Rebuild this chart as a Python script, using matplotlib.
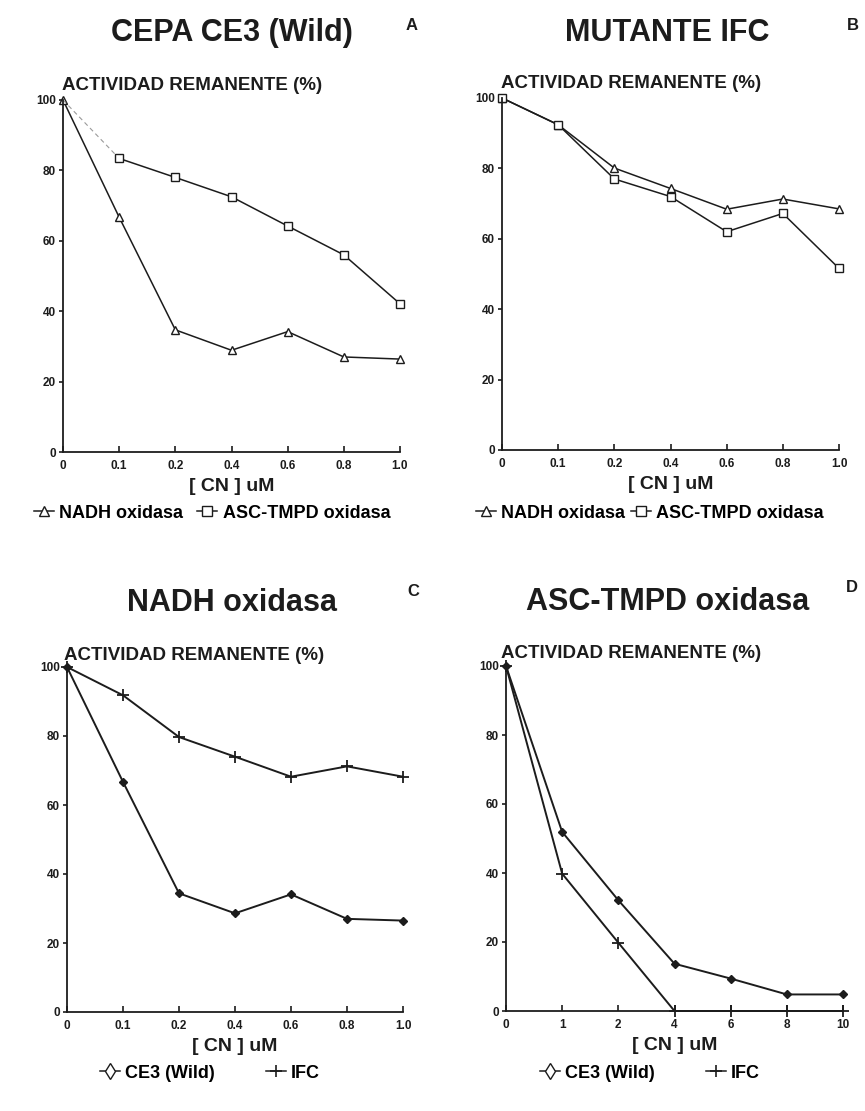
import numpy as np
import matplotlib
matplotlib.use('Agg')
import matplotlib.pyplot as plt
from matplotlib.lines import Line2D

plt.rcParams['font.family'] = ['Liberation Sans', 'DejaVu Sans']
plt.rcParams['font.weight'] = 'bold'

###### data
x_labels_cn = ['0', '0.1', '0.2', '0.4', '0.6', '0.8', '1.0']
x_labels_d = ['0', '1', '2', '4', '6', '8', '10']

# A : CEPA CE3 (Wild)
a_nadh = [100, 66.7, 34.7, 28.9, 34.2, 27.0, 26.4]
a_asc = [100, 83.4, 78.0, 72.5, 64.2, 56.0, 42.1]
# B : MUTANTE IFC
b_nadh = [100, 92.4, 80.1, 74.3, 68.4, 71.3, 68.5]
b_asc = [100, 92.4, 77.0, 72.0, 62.0, 67.2, 51.6]
# C : NADH oxidasa
c_ce3 = [100, 66.7, 34.4, 28.6, 34.1, 27.0, 26.5]
c_ifc = [100, 91.8, 79.7, 74.0, 68.2, 71.2, 68.2]
# D : ASC-TMPD oxidasa
d_ce3 = [100, 51.9, 32.1, 13.7, 9.4, 4.8, 4.8]
d_ifc = [100, 39.8, 19.8, 0, 0, 0, 0]

INK = '#1c1c1c'
W, H = 865, 1111

fig = plt.figure(figsize=(W / 100, H / 100), dpi=100)
fig.patch.set_facecolor('white')


def px(x, y):
    return x / W, 1 - y / H


def make_ax(left, top, right, bottom):
    l, t = px(left, top)
    r, b = px(right, bottom)
    return fig.add_axes([l, b, r - l, t - b])


def style(ax, xl):
    ax.set_xlim(0, 6)
    ax.set_ylim(0, 100)
    for s in ['top', 'right']:
        ax.spines[s].set_visible(False)
    for s in ['left', 'bottom']:
        ax.spines[s].set_color(INK)
        ax.spines[s].set_linewidth(1.3)
    ax.set_xticks(range(len(xl)))
    ax.set_xticklabels(xl)
    ax.set_yticks([0, 20, 40, 60, 80, 100])
    ax.set_yticklabels(['0', '20', '40', '60', '80', '100'])
    ax.tick_params(axis='x', direction='in', length=4, width=1.2, colors=INK, labelsize=8.5, pad=6)
    ax.tick_params(axis='y', direction='out', length=3, width=1.2, colors=INK, labelsize=8.5, pad=2)
    for t in ax.get_xticklabels() + ax.get_yticklabels():
        t.set_fontweight('bold')
    ax.set_xlabel('[ CN ] uM', fontsize=14, fontweight='bold', color=INK, labelpad=4)


xs = np.arange(7)
lw = 1.1

#######################################################################################
""" A """
axA = make_ax(63, 100, 400, 452)
style(axA, x_labels_cn)
axA.plot(xs, a_nadh, color=INK, lw=lw, marker='^', ms=6, mfc='white', mew=1.0, clip_on=False)
axA.plot(xs[:2], a_asc[:2], color='#9a9a9a', lw=0.8, ls=(0, (4, 3)), clip_on=False)
axA.plot(xs[1:], a_asc[1:], color=INK, lw=lw, marker='s', ms=5.5, mfc='white', mew=1.0, clip_on=False)

""" B """
axB = make_ax(502, 98, 839, 450)
style(axB, x_labels_cn)
axB.plot(xs, b_nadh, color=INK, lw=lw, marker='^', ms=6, mfc='white', mew=1.0, clip_on=False)
axB.plot(xs, b_asc, color=INK, lw=lw, marker='s', ms=5.5, mfc='white', mew=1.0, clip_on=False)

""" C """
axC = make_ax(67, 667, 403, 1012)
style(axC, x_labels_cn)
axC.plot(xs, c_ifc, color=INK, lw=1.4, marker='+', ms=8, mew=1.3, clip_on=False)
axC.plot(xs, c_ce3, color=INK, lw=1.4, marker='D', ms=4.5, mfc=INK, mew=1.0, clip_on=False)

""" D """
axD = make_ax(506, 666, 843, 1011)
style(axD, x_labels_d)
axD.plot(xs, d_ifc, color=INK, lw=1.4, marker='+', ms=8, mew=1.3, clip_on=False)
axD.plot(xs, d_ce3, color=INK, lw=1.4, marker='D', ms=4.5, mfc=INK, mew=1.0, clip_on=False)

#######################################################################################
""" texts """
titles = [('CEPA CE3 (Wild)', 232, 33, 'A', 412, 25),
          ('MUTANTE IFC', 667, 33, 'B', 853, 25),
          ('NADH oxidasa', 232, 603, 'C', 413, 592),
          ('ASC-TMPD oxidasa', 668, 602, 'D', 852, 587)]
for t, tx, ty, let, lx, ly in titles:
    fig.text(*px(tx, ty), t, ha='center', va='center', fontsize=22, fontweight='bold', color=INK)
    fig.text(*px(lx, ly), let, ha='center', va='center', fontsize=12, fontweight='bold', color=INK)

for xx, yy in [(62, 85), (501, 84), (64, 655), (501, 653)]:
    fig.text(*px(xx, yy), 'ACTIVIDAD REMANENTE (%)', ha='left', va='center', fontsize=13.5,
             fontweight='bold', color=INK)

### legends
h_tri = Line2D([], [], color=INK, lw=lw, marker='^', ms=7, mfc='white')
h_sq = Line2D([], [], color=INK, lw=lw, marker='s', ms=6.5, mfc='white')
h_dia = Line2D([], [], color=INK, lw=lw, marker='d', ms=8, mfc='white')
h_plus = Line2D([], [], color=INK, lw=lw, marker='+', ms=9, mew=1.2)

legs = [([h_tri, h_sq], ['NADH oxidasa', 'ASC-TMPD oxidasa'], 212, 513, 0.8),
        ([h_tri, h_sq], ['NADH oxidasa', 'ASC-TMPD oxidasa'], 650, 513, 0.3),
        ([h_dia, h_plus], ['CE3 (Wild)', 'IFC'], 210, 1073, 2.8),
        ([h_dia, h_plus], ['CE3 (Wild)', 'IFC'], 650, 1073, 2.8)]
for hs, ls, lx, ly, cs in legs:
    fig.legend(hs, ls, loc='center', bbox_to_anchor=px(lx, ly), ncol=2, frameon=False,
               handlelength=1.1, handletextpad=0.3, columnspacing=cs,
               prop={'weight': 'bold', 'size': 13})

plt.savefig('out.png', dpi=100, facecolor='white')
plt.close()
